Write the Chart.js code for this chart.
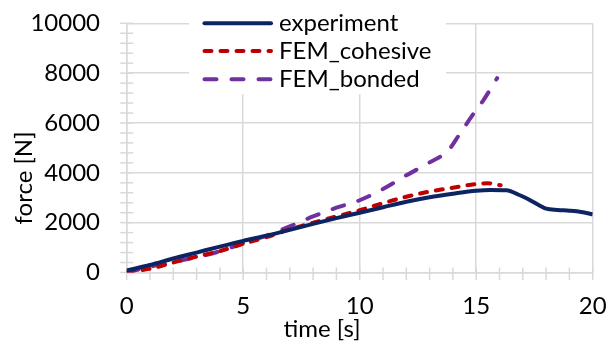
<!DOCTYPE html>
<html>
<head>
<meta charset="utf-8">
<script src="https://cdn.jsdelivr.net/npm/chart.js@4/dist/chart.umd.min.js"></script>
<style>
  html, body { margin: 0; padding: 0; background: #fff; }
  #wrap { width: 612px; height: 345px; position: relative; }
</style>
</head>
<body>
<div id="wrap"><canvas id="c" width="612" height="345"></canvas></div>
<script>
// ---- data ----
const seriesNames = ['experiment', 'FEM_cohesive', 'FEM_bonded'];

const expTime  = [0, 1, 2, 3, 4, 5, 6, 7, 8, 9, 10, 11, 12, 13, 14, 15, 15.6, 16.3, 16.8, 17.2, 17.7, 18.0, 18.5, 19.0, 19.5, 20];
const expForce = [80, 300, 560, 800, 1040, 1270, 1480, 1710, 1950, 2180, 2400, 2620, 2840, 3020, 3160, 3280, 3310, 3300, 3130, 2960, 2700, 2560, 2510, 2480, 2430, 2330];

const cohTime  = [0, 1, 2, 3, 4, 5, 6, 7, 8, 9, 10, 11, 12, 13, 14, 15, 15.5, 16.05];
const cohForce = [30, 150, 400, 640, 860, 1150, 1420, 1730, 2000, 2250, 2500, 2780, 3040, 3250, 3400, 3550, 3580, 3500];

const bonTime  = [0, 1, 2, 3, 4, 5, 6, 7, 8, 9, 10, 11, 12, 13, 13.8, 14.3, 14.9, 15.3, 15.9];
const bonForce = [0, 230, 420, 620, 850, 1180, 1480, 1850, 2250, 2600, 2900, 3350, 3900, 4420, 4900, 5570, 6390, 6900, 7800];

const xTicks = { min: 0, max: 20, step: 5, minorStep: 1 };
const yTicks = { min: 0, max: 10000, step: 2000, minorStep: 400 };
const xTitle = 'time [s]';
const yTitle = 'force [N]';

function pts(t, f) { return t.map((v, i) => ({ x: v, y: f[i] })); }

const FONT = 'Lato, "Open Sans", sans-serif';
const FSIZE = 24;
const GRID = '#d9d9d9';

const colors = ['#0d2463', '#c00000', '#7030a0'];
const dashes = [[], [7, 9], [12, 15]];

const minorTicksPlugin = {
  id: 'minorTicks',
  beforeDatasetsDraw(chart) {
    const { ctx, scales: { x, y } } = chart;
    ctx.save();
    ctx.strokeStyle = GRID;
    ctx.lineWidth = 1.5;
    const x0 = x.getPixelForValue(xTicks.min);
    for (let v = yTicks.min; v <= yTicks.max + 1e-6; v += yTicks.minorStep) {
      const py = y.getPixelForValue(v);
      ctx.beginPath(); ctx.moveTo(x0 - 6.5, py); ctx.lineTo(x0 + 6.5, py); ctx.stroke();
    }
    const y0 = y.getPixelForValue(yTicks.min);
    for (let v = xTicks.min; v <= xTicks.max + 1e-6; v += xTicks.minorStep) {
      const px = x.getPixelForValue(v);
      ctx.beginPath(); ctx.moveTo(px, y0 - 5); ctx.lineTo(px, y0 + 7.5); ctx.stroke();
    }
    ctx.restore();
  },
  afterDraw(chart) {
    const { ctx } = chart;
    ctx.save();
    // axis titles
    ctx.fillStyle = '#000';
    ctx.font = FSIZE + 'px ' + FONT;
    ctx.textAlign = 'center';
    ctx.textBaseline = 'middle';
    ctx.fillText(xTitle, 322, 329);
    ctx.save();
    ctx.translate(24, 178);
    ctx.rotate(-Math.PI / 2);
    ctx.fillText(yTitle, 0, 0);
    ctx.restore();
    // legend
    ctx.fillStyle = '#fff';
    ctx.fillRect(189, 0, 257, 94);
    const rows = [23.3, 51, 79.3];
    chart.data.datasets.forEach((ds, i) => {
      const yy = rows[i];
      ctx.strokeStyle = ds.borderColor;
      ctx.lineWidth = 4;
      ctx.lineCap = 'round';
      ctx.setLineDash(ds.borderDash || []);
      ctx.beginPath(); ctx.moveTo(204.5, yy); ctx.lineTo(271, yy); ctx.stroke();
      ctx.setLineDash([]);
      ctx.fillStyle = '#000';
      ctx.textAlign = 'left';
      ctx.fillText(ds.label, 279, yy);
    });
    ctx.restore();
  }
};

new Chart(document.getElementById('c'), {
  type: 'line',
  data: {
    datasets: [
      { label: seriesNames[0], data: pts(expTime, expForce) },
      { label: seriesNames[1], data: pts(cohTime, cohForce) },
      { label: seriesNames[2], data: pts(bonTime, bonForce) }
    ].map((d, i) => Object.assign(d, {
      borderColor: colors[i],
      backgroundColor: colors[i],
      borderWidth: 4,
      borderDash: dashes[i],
      borderCapStyle: i === 0 ? 'butt' : 'round',
      pointRadius: 0,
      fill: false,
      cubicInterpolationMode: 'monotone'
    }))
  },
  options: {
    responsive: false,
    animation: false,
    devicePixelRatio: 1,
    layout: { padding: { left: 0, right: 19.3, top: 23.3, bottom: 0 } },
    plugins: { legend: { display: false }, tooltip: { enabled: false } },
    scales: {
      x: {
        type: 'linear',
        min: xTicks.min, max: xTicks.max,
        afterFit(s) { s.height = 72.5; s.paddingLeft = 0; s.paddingRight = 0; },
        ticks: { stepSize: xTicks.step, color: '#000', font: { family: FONT, size: FSIZE }, padding: 19, maxRotation: 0,
                 callback: v => String(v) },
        grid: { color: GRID, lineWidth: 1.5, drawTicks: false },
        border: { color: GRID, width: 1.5 }
      },
      y: {
        min: yTicks.min, max: yTicks.max,
        afterFit(s) { s.width = 126.7; s.paddingTop = 0; s.paddingBottom = 0; },
        ticks: { stepSize: yTicks.step, color: '#000', font: { family: FONT, size: FSIZE }, padding: 26.7,
                 callback: v => String(v) },
        grid: { color: GRID, lineWidth: 1.5, drawTicks: false },
        border: { color: GRID, width: 1.5 }
      }
    }
  },
  plugins: [minorTicksPlugin]
});
</script>
</body>
</html>
